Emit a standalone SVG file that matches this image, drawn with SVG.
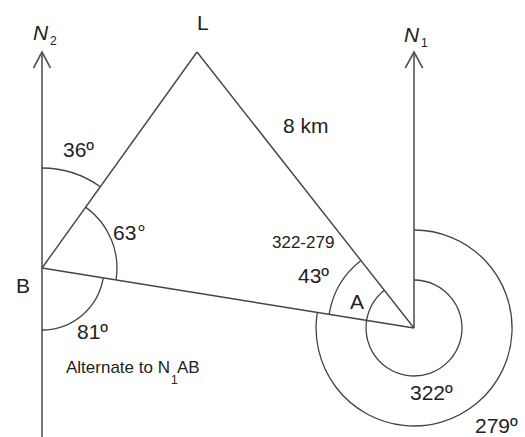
<svg xmlns="http://www.w3.org/2000/svg" width="525" height="437" viewBox="0 0 525 437">
<style>
text{font-family:"Liberation Sans",Arial,sans-serif;fill:#222;}
.big{font-size:21px;}
.small{font-size:17px;}
.sub{font-size:12px;}
.it{font-style:italic;}
.ln{stroke:#444;stroke-width:1.4;fill:none;}
.nl{stroke:#555;stroke-width:1.6;fill:none;}
.arc{stroke:#444;stroke-width:1.3;fill:none;}
</style>
<rect width="525" height="437" fill="#fff"/>
<g id="connectors">
<line class="nl" x1="42" y1="52" x2="42" y2="437"/>
<polyline class="nl" points="33.5,68 42,52 50.5,68"/>
<line class="nl" x1="414" y1="52" x2="414" y2="328"/>
<polyline class="nl" points="405.3,68 414,52 422.7,68"/>
<line class="ln" x1="42" y1="268" x2="197" y2="52"/>
<line class="ln" x1="197" y1="52" x2="414" y2="328"/>
<line class="ln" x1="42" y1="268" x2="414" y2="328"/>
</g>
<g id="angles">
<path class="arc" d="M42 168 A100 100 0 0 1 100.3 186.8"/>
<path class="arc" d="M85.7 207.1 A75 75 0 0 1 116 279.9"/>
<path class="arc" d="M103.2 277.9 A62 62 0 0 1 42 330"/>
<path class="arc" d="M414 280 A48 48 0 1 1 384.3 290.3"/>
<path class="arc" d="M414 230 A98 98 0 1 1 317.3 312.4"/>
<path class="arc" d="M329.1 314.3 A86 86 0 0 1 360.9 260.4"/>
<text class="big" x="63" y="157">36º</text>
<text class="big" x="113" y="240">63<tspan dx="1">°</tspan></text>
<text class="big" x="77" y="339">81º</text>
<text class="small" x="272" y="248">322-279</text>
<text class="big" x="298" y="283">43º</text>
<text class="big" x="410" y="400">322º</text>
<text class="big" x="475" y="433">279º</text>
<text class="small" x="66" y="373">Alternate to N</text>
<text class="sub" x="171" y="384">1</text>
<text class="small" x="177" y="373">AB</text>
</g>
<g id="node-N2">
<text class="big it" x="33" y="40">N</text>
<text class="sub" x="50" y="45">2</text>
</g>
<g id="node-N1">
<text class="big it" x="404" y="42">N</text>
<text class="sub" x="421" y="47">1</text>
</g>
<g id="node-L">
<text class="big" x="197" y="30">L</text>
<text class="big" x="283" y="133">8 km</text>
</g>
<g id="node-B">
<text class="big" x="16" y="293">B</text>
</g>
<g id="node-A">
<text class="big" x="350" y="309">A</text>
</g>
</svg>
